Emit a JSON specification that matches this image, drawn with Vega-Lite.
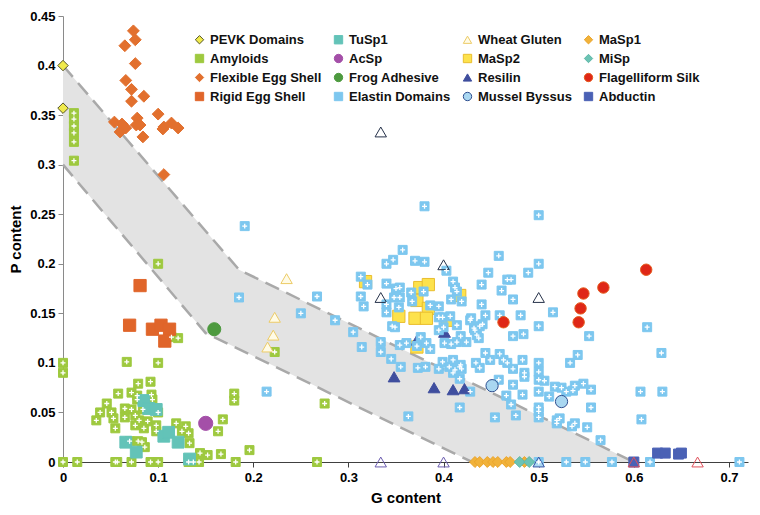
{
"$schema": "https://vega.github.io/schema/vega-lite/v6.json",
"width": 685, "height": 446,
"autosize": {"type": "none"},
"padding": {"left": 63, "top": 16, "right": 12, "bottom": 53},
"background": "white",
"config": {
  "view": {"stroke": null},
  "font": "Liberation Sans",
  "axis": {"grid": false, "labelFontSize": 13, "labelFontWeight": "bold", "labelColor": "#000", "titleFontSize": 15, "titleFontWeight": "bold", "titleColor": "#000", "tickSize": 5, "labelExpr": "format(datum.value, '~g')"},
  "axisX": {"tickCount": 8, "domainColor": "#404040", "tickColor": "#404040", "labelPadding": 4, "titlePadding": 6, "labelFlush": false},
  "axisY": {"tickCount": 10, "domainColor": "#8a8a8a", "tickColor": "#8a8a8a", "labelPadding": 3, "titlePadding": 6}
},
"datasets": {
  "band": [{"g":0,"up":0.4,"lo":0.3},{"g":0.15,"up":0.233,"lo":0.13},{"g":0.185,"up":0.194,"lo":0.114},{"g":0.43,"up":0.0795,"lo":0},{"g":0.6,"up":0,"lo":0}],
  "edges": [{"e":"upper","g":0,"p":0.4},{"e":"upper","g":0.185,"p":0.194},{"e":"upper","g":0.6,"p":0},{"e":"lower","g":0,"p":0.3},{"e":"lower","g":0.15,"p":0.13},{"e":"lower","g":0.43,"p":0}],
  "pts": [
{"s":"Amyloids","g":0.0115,"p":0.352},{"s":"Amyloids","g":0.0115,"p":0.346},{"s":"Amyloids","g":0.0115,"p":0.339},{"s":"Amyloids","g":0.0115,"p":0.332},{"s":"Amyloids","g":0.0115,"p":0.323},{"s":"Amyloids","g":0.0115,"p":0.304},
{"s":"Amyloids","g":0.1,"p":0.2},{"s":"Amyloids","g":0,"p":0.1},{"s":"Amyloids","g":0,"p":0.09},{"s":"Amyloids","g":0.067,"p":0.101},{"s":"Amyloids","g":0.1,"p":0.1},{"s":"Amyloids","g":0.114,"p":0.126},{"s":"Amyloids","g":0.121,"p":0.125},
{"s":"Amyloids","g":0.079,"p":0.079},{"s":"Amyloids","g":0.092,"p":0.081},{"s":"Amyloids","g":0.058,"p":0.069},{"s":"Amyloids","g":0.072,"p":0.07},{"s":"Amyloids","g":0.078,"p":0.067},{"s":"Amyloids","g":0.093,"p":0.068},{"s":"Amyloids","g":0.078,"p":0.063},{"s":"Amyloids","g":0.094,"p":0.063},
{"s":"Amyloids","g":0.046,"p":0.059},{"s":"Amyloids","g":0.065,"p":0.054},{"s":"Amyloids","g":0.072,"p":0.053},{"s":"Amyloids","g":0.084,"p":0.053},{"s":"Amyloids","g":0.039,"p":0.05},{"s":"Amyloids","g":0.051,"p":0.05},{"s":"Amyloids","g":0.1,"p":0.05},
{"s":"Amyloids","g":0.035,"p":0.042},{"s":"Amyloids","g":0.053,"p":0.044},{"s":"Amyloids","g":0.065,"p":0.045},{"s":"Amyloids","g":0.076,"p":0.047},{"s":"Amyloids","g":0.08,"p":0.042},
{"s":"Amyloids","g":0.055,"p":0.034},{"s":"Amyloids","g":0.076,"p":0.037},{"s":"Amyloids","g":0.085,"p":0.034},{"s":"Amyloids","g":0.089,"p":0.041},{"s":"Amyloids","g":0.098,"p":0.037},{"s":"Amyloids","g":0.098,"p":0.031},
{"s":"Amyloids","g":0.119,"p":0.039},{"s":"Amyloids","g":0.129,"p":0.036},{"s":"Amyloids","g":0.125,"p":0.031},{"s":"Amyloids","g":0.132,"p":0.029},
{"s":"Amyloids","g":0.07,"p":0.021},{"s":"Amyloids","g":0.079,"p":0.021},{"s":"Amyloids","g":0.083,"p":0.02},{"s":"Amyloids","g":0.086,"p":0.015},{"s":"Amyloids","g":0.133,"p":0.019},{"s":"Amyloids","g":0.144,"p":0.009},{"s":"Amyloids","g":0.152,"p":0.007},{"s":"Amyloids","g":0.166,"p":0.008},
{"s":"Amyloids","g":0.168,"p":0.043},{"s":"Amyloids","g":0.163,"p":0.031},{"s":"Amyloids","g":0.18,"p":0.069},{"s":"Amyloids","g":0.18,"p":0.062},{"s":"Amyloids","g":0.196,"p":0.012},{"s":"Amyloids","g":0.2225,"p":0.111},{"s":"Amyloids","g":0.275,"p":0.059},
{"s":"Amyloids","g":0,"p":0},{"s":"Amyloids","g":0.015,"p":0},{"s":"Amyloids","g":0.055,"p":0},{"s":"Amyloids","g":0.057,"p":0},{"s":"Amyloids","g":0.072,"p":0},{"s":"Amyloids","g":0.092,"p":0},{"s":"Amyloids","g":0.1,"p":0},{"s":"Amyloids","g":0.132,"p":0},{"s":"Amyloids","g":0.137,"p":0},{"s":"Amyloids","g":0.143,"p":0},{"s":"Amyloids","g":0.1815,"p":0},{"s":"Amyloids","g":0.267,"p":0},
{"s":"TuSp1","g":0.085,"p":0.062},{"s":"TuSp1","g":0.09,"p":0.054},{"s":"TuSp1","g":0.098,"p":0.053},{"s":"TuSp1","g":0.106,"p":0.026},{"s":"TuSp1","g":0.111,"p":0.03},{"s":"TuSp1","g":0.121,"p":0.02},{"s":"TuSp1","g":0.066,"p":0.02},{"s":"TuSp1","g":0.077,"p":0.01},{"s":"TuSp1","g":0.133,"p":0.003},
{"s":"PEVK Domains","g":0,"p":0.4},{"s":"PEVK Domains","g":0,"p":0.357},
{"s":"Flexible Egg Shell","g":0.074,"p":0.435},{"s":"Flexible Egg Shell","g":0.076,"p":0.426},{"s":"Flexible Egg Shell","g":0.065,"p":0.42},{"s":"Flexible Egg Shell","g":0.076,"p":0.402},{"s":"Flexible Egg Shell","g":0.066,"p":0.385},{"s":"Flexible Egg Shell","g":0.072,"p":0.376},{"s":"Flexible Egg Shell","g":0.085,"p":0.369},{"s":"Flexible Egg Shell","g":0.072,"p":0.364},{"s":"Flexible Egg Shell","g":0.1,"p":0.351},{"s":"Flexible Egg Shell","g":0.054,"p":0.343},{"s":"Flexible Egg Shell","g":0.062,"p":0.341},{"s":"Flexible Egg Shell","g":0.066,"p":0.337},{"s":"Flexible Egg Shell","g":0.078,"p":0.347},{"s":"Flexible Egg Shell","g":0.077,"p":0.34},{"s":"Flexible Egg Shell","g":0.081,"p":0.34},{"s":"Flexible Egg Shell","g":0.114,"p":0.342},{"s":"Flexible Egg Shell","g":0.106,"p":0.338},{"s":"Flexible Egg Shell","g":0.105,"p":0.336},{"s":"Flexible Egg Shell","g":0.121,"p":0.337},{"s":"Flexible Egg Shell","g":0.084,"p":0.328},{"s":"Flexible Egg Shell","g":0.06,"p":0.333},{"s":"Flexible Egg Shell","g":0.106,"p":0.29},
{"s":"Rigid Egg Shell","g":0.081,"p":0.178},{"s":"Rigid Egg Shell","g":0.07,"p":0.138},{"s":"Rigid Egg Shell","g":0.094,"p":0.134},{"s":"Rigid Egg Shell","g":0.103,"p":0.138},{"s":"Rigid Egg Shell","g":0.112,"p":0.134},{"s":"Rigid Egg Shell","g":0.107,"p":0.122},
{"s":"AcSp","g":0.15,"p":0.039},{"s":"Frog Adhesive","g":0.159,"p":0.134},
{"s":"MaSp2","g":0.318,"p":0.182},{"s":"MaSp2","g":0.375,"p":0.176},{"s":"MaSp2","g":0.384,"p":0.179},{"s":"MaSp2","g":0.372,"p":0.163},{"s":"MaSp2","g":0.384,"p":0.155},{"s":"MaSp2","g":0.353,"p":0.147},{"s":"MaSp2","g":0.37,"p":0.145},{"s":"MaSp2","g":0.382,"p":0.145},{"s":"MaSp2","g":0.404,"p":0.143},{"s":"MaSp2","g":0.417,"p":0.168},{"s":"MaSp2","g":0.372,"p":0.116},
{"s":"Resilin","g":0.372,"p":0.123},{"s":"Resilin","g":0.401,"p":0.131},
{"s":"Elastin Domains","g":0.191,"p":0.238},{"s":"Elastin Domains","g":0.185,"p":0.166},{"s":"Elastin Domains","g":0.38,"p":0.258},{"s":"Elastin Domains","g":0.357,"p":0.214},{"s":"Elastin Domains","g":0.347,"p":0.204},{"s":"Elastin Domains","g":0.34,"p":0.2},{"s":"Elastin Domains","g":0.37,"p":0.203},{"s":"Elastin Domains","g":0.38,"p":0.202},{"s":"Elastin Domains","g":0.313,"p":0.187},{"s":"Elastin Domains","g":0.32,"p":0.179},{"s":"Elastin Domains","g":0.34,"p":0.18},{"s":"Elastin Domains","g":0.35,"p":0.175},{"s":"Elastin Domains","g":0.354,"p":0.176},{"s":"Elastin Domains","g":0.366,"p":0.171},{"s":"Elastin Domains","g":0.379,"p":0.172},{"s":"Elastin Domains","g":0.267,"p":0.167},{"s":"Elastin Domains","g":0.313,"p":0.167},{"s":"Elastin Domains","g":0.348,"p":0.166},{"s":"Elastin Domains","g":0.403,"p":0.193},{"s":"Elastin Domains","g":0.41,"p":0.182},{"s":"Elastin Domains","g":0.412,"p":0.176},{"s":"Elastin Domains","g":0.414,"p":0.172},{"s":"Elastin Domains","g":0.354,"p":0.166},{"s":"Elastin Domains","g":0.316,"p":0.157},{"s":"Elastin Domains","g":0.34,"p":0.159},{"s":"Elastin Domains","g":0.353,"p":0.156},{"s":"Elastin Domains","g":0.367,"p":0.162},{"s":"Elastin Domains","g":0.386,"p":0.158},{"s":"Elastin Domains","g":0.395,"p":0.157},{"s":"Elastin Domains","g":0.408,"p":0.164},{"s":"Elastin Domains","g":0.34,"p":0.151},{"s":"Elastin Domains","g":0.399,"p":0.146},{"s":"Elastin Domains","g":0.407,"p":0.147},{"s":"Elastin Domains","g":0.25,"p":0.15},{"s":"Elastin Domains","g":0.286,"p":0.143},{"s":"Elastin Domains","g":0.305,"p":0.131},{"s":"Elastin Domains","g":0.314,"p":0.116},{"s":"Elastin Domains","g":0.334,"p":0.121},{"s":"Elastin Domains","g":0.334,"p":0.111},{"s":"Elastin Domains","g":0.345,"p":0.104},{"s":"Elastin Domains","g":0.355,"p":0.096},{"s":"Elastin Domains","g":0.214,"p":0.071},{"s":"Elastin Domains","g":0.363,"p":0.046},{"s":"Elastin Domains","g":0.346,"p":0.137},{"s":"Elastin Domains","g":0.349,"p":0.136},{"s":"Elastin Domains","g":0.361,"p":0.12},{"s":"Elastin Domains","g":0.354,"p":0.118},{"s":"Elastin Domains","g":0.373,"p":0.095},{"s":"Elastin Domains","g":0.381,"p":0.096},{"s":"Elastin Domains","g":0.376,"p":0.126},{"s":"Elastin Domains","g":0.382,"p":0.12},{"s":"Elastin Domains","g":0.386,"p":0.114},{"s":"Elastin Domains","g":0.395,"p":0.094},{"s":"Elastin Domains","g":0.399,"p":0.101},{"s":"Elastin Domains","g":0.406,"p":0.096},{"s":"Elastin Domains","g":0.412,"p":0.093},{"s":"Elastin Domains","g":0.417,"p":0.096},{"s":"Elastin Domains","g":0.419,"p":0.094},{"s":"Elastin Domains","g":0.417,"p":0.084},{"s":"Elastin Domains","g":0.417,"p":0.055},{"s":"Elastin Domains","g":0.428,"p":0.071},{"s":"Elastin Domains","g":0.395,"p":0.146},{"s":"Elastin Domains","g":0.4,"p":0.136},{"s":"Elastin Domains","g":0.395,"p":0.133},{"s":"Elastin Domains","g":0.401,"p":0.12},{"s":"Elastin Domains","g":0.408,"p":0.119},{"s":"Elastin Domains","g":0.414,"p":0.121},{"s":"Elastin Domains","g":0.418,"p":0.127},{"s":"Elastin Domains","g":0.424,"p":0.121},{"s":"Elastin Domains","g":0.432,"p":0.135},{"s":"Elastin Domains","g":0.435,"p":0.128},{"s":"Elastin Domains","g":0.428,"p":0.143},{"s":"Elastin Domains","g":0.414,"p":0.138},{"s":"Elastin Domains","g":0.41,"p":0.103},{"s":"Elastin Domains","g":0.418,"p":0.098},{"s":"Elastin Domains","g":0.434,"p":0.1},{"s":"Elastin Domains","g":0.372,"p":0.117},{"s":"Elastin Domains","g":0.444,"p":0.148},{"s":"Elastin Domains","g":0.459,"p":0.148},{"s":"Elastin Domains","g":0.481,"p":0.148},{"s":"Elastin Domains","g":0.515,"p":0.151},{"s":"Elastin Domains","g":0.5,"p":0.137},{"s":"Elastin Domains","g":0.433,"p":0.133},{"s":"Elastin Domains","g":0.438,"p":0.137},{"s":"Elastin Domains","g":0.441,"p":0.139},{"s":"Elastin Domains","g":0.437,"p":0.125},{"s":"Elastin Domains","g":0.473,"p":0.127},{"s":"Elastin Domains","g":0.484,"p":0.129},{"s":"Elastin Domains","g":0.444,"p":0.11},{"s":"Elastin Domains","g":0.449,"p":0.103},{"s":"Elastin Domains","g":0.459,"p":0.109},{"s":"Elastin Domains","g":0.463,"p":0.103},{"s":"Elastin Domains","g":0.467,"p":0.1},{"s":"Elastin Domains","g":0.473,"p":0.094},{"s":"Elastin Domains","g":0.483,"p":0.103},{"s":"Elastin Domains","g":0.5,"p":0.1},{"s":"Elastin Domains","g":0.5,"p":0.091},{"s":"Elastin Domains","g":0.5,"p":0.083},{"s":"Elastin Domains","g":0.506,"p":0.082},{"s":"Elastin Domains","g":0.5,"p":0.071},{"s":"Elastin Domains","g":0.511,"p":0.066},{"s":"Elastin Domains","g":0.517,"p":0.076},{"s":"Elastin Domains","g":0.524,"p":0.075},{"s":"Elastin Domains","g":0.529,"p":0.071},{"s":"Elastin Domains","g":0.536,"p":0.072},{"s":"Elastin Domains","g":0.533,"p":0.1},{"s":"Elastin Domains","g":0.541,"p":0.108},{"s":"Elastin Domains","g":0.41,"p":0.09},{"s":"Elastin Domains","g":0.458,"p":0.083},{"s":"Elastin Domains","g":0.473,"p":0.078},{"s":"Elastin Domains","g":0.483,"p":0.068},{"s":"Elastin Domains","g":0.466,"p":0.067},{"s":"Elastin Domains","g":0.471,"p":0.058},{"s":"Elastin Domains","g":0.454,"p":0.045},{"s":"Elastin Domains","g":0.476,"p":0.047},{"s":"Elastin Domains","g":0.5,"p":0.055},{"s":"Elastin Domains","g":0.5,"p":0.051},{"s":"Elastin Domains","g":0.5,"p":0.045},{"s":"Elastin Domains","g":0.522,"p":0.044},{"s":"Elastin Domains","g":0.519,"p":0.039},{"s":"Elastin Domains","g":0.538,"p":0.039},{"s":"Elastin Domains","g":0.535,"p":0.036},{"s":"Elastin Domains","g":0.529,"p":0},{"s":"Elastin Domains","g":0.5,"p":0.249},{"s":"Elastin Domains","g":0.458,"p":0.208},{"s":"Elastin Domains","g":0.489,"p":0.191},{"s":"Elastin Domains","g":0.447,"p":0.191},{"s":"Elastin Domains","g":0.467,"p":0.184},{"s":"Elastin Domains","g":0.471,"p":0.184},{"s":"Elastin Domains","g":0.44,"p":0.179},{"s":"Elastin Domains","g":0.461,"p":0.173},{"s":"Elastin Domains","g":0.473,"p":0.164},{"s":"Elastin Domains","g":0.44,"p":0.159},{"s":"Elastin Domains","g":0.419,"p":0.162},{"s":"Elastin Domains","g":0.429,"p":0.145},{"s":"Elastin Domains","g":0.553,"p":0.127},{"s":"Elastin Domains","g":0.614,"p":0.136},{"s":"Elastin Domains","g":0.629,"p":0.11},{"s":"Elastin Domains","g":0.607,"p":0.071},{"s":"Elastin Domains","g":0.63,"p":0.071},{"s":"Elastin Domains","g":0.608,"p":0.043},{"s":"Elastin Domains","g":0.565,"p":0.022},{"s":"Elastin Domains","g":0.551,"p":0.035},{"s":"Elastin Domains","g":0.555,"p":0.055},{"s":"Elastin Domains","g":0.555,"p":0.073},{"s":"Elastin Domains","g":0.547,"p":0.079},{"s":"Elastin Domains","g":0.538,"p":0.077},{"s":"Elastin Domains","g":0.485,"p":0.09},{"s":"Elastin Domains","g":0.485,"p":0.086},{"s":"Elastin Domains","g":0.438,"p":0.095},{"s":"Elastin Domains","g":0.549,"p":0},{"s":"Elastin Domains","g":0.577,"p":0},{"s":"Elastin Domains","g":0.617,"p":0},{"s":"Elastin Domains","g":0.711,"p":0},{"s":"Elastin Domains","g":0.5,"p":0},{"s":"Elastin Domains","g":0.519,"p":0.042},{"s":"Elastin Domains","g":0.5,"p":0.2},
{"s":"Resilin","g":0.348,"p":0.086},{"s":"Resilin","g":0.39,"p":0.075},{"s":"Resilin","g":0.41,"p":0.073},{"s":"Resilin","g":0.422,"p":0.074},
{"s":"Wheat Gluten","g":0.235,"p":0.185},{"s":"Wheat Gluten","g":0.2225,"p":0.146},{"s":"Wheat Gluten","g":0.221,"p":0.128},{"s":"Wheat Gluten","g":0.215,"p":0.116},
{"s":"Mussel Byssus","g":0.451,"p":0.077},{"s":"Mussel Byssus","g":0.524,"p":0.061},
{"s":"MaSp1","g":0.433,"p":0},{"s":"MaSp1","g":0.438,"p":0},{"s":"MaSp1","g":0.446,"p":0},{"s":"MaSp1","g":0.452,"p":0},{"s":"MaSp1","g":0.457,"p":0},{"s":"MaSp1","g":0.466,"p":0},{"s":"MaSp1","g":0.47,"p":0},{"s":"MaSp1","g":0.485,"p":0},
{"s":"MiSp","g":0.48,"p":0},{"s":"MiSp","g":0.49,"p":0},
{"s":"Flagelliform Silk","g":0.463,"p":0.141},{"s":"Flagelliform Silk","g":0.542,"p":0.141},{"s":"Flagelliform Silk","g":0.544,"p":0.155},{"s":"Flagelliform Silk","g":0.547,"p":0.17},{"s":"Flagelliform Silk","g":0.568,"p":0.176},{"s":"Flagelliform Silk","g":0.613,"p":0.194},
{"s":"Abductin","g":0.625,"p":0.009},{"s":"Abductin","g":0.633,"p":0.009},{"s":"Abductin","g":0.647,"p":0.008},{"s":"Abductin","g":0.65,"p":0.009},{"s":"Abductin","g":0.6,"p":0},
{"s":"Other A","g":0.334,"p":0.333},{"s":"Other A","g":0.4,"p":0.199},{"s":"Other A","g":0.334,"p":0.166},{"s":"Other A","g":0.5,"p":0.166},
{"s":"Other B","g":0.334,"p":0},{"s":"Other B","g":0.4,"p":0},
{"s":"Other C","g":0.6,"p":0},{"s":"Other C","g":0.667,"p":0},
{"s":"Other D","g":0.5,"p":0}
  ]
},
"layer": [
  {
    "data": {"name": "band"},
    "mark": {"type": "area", "color": "#e3e3e3"},
    "encoding": {
      "x": {"field": "g", "type": "quantitative", "title": "G content", "scale": {"domain": [0, 0.72], "nice": false}},
      "y": {"field": "up", "type": "quantitative", "title": "P content", "scale": {"domain": [0, 0.45], "nice": false}},
      "y2": {"field": "lo"}
    }
  },
  {
    "data": {"name": "edges"},
    "mark": {"type": "line", "color": "#a9a9a9", "strokeWidth": 2.5, "strokeDash": [15, 8]},
    "encoding": {
      "x": {"field": "g", "type": "quantitative", "title": "G content"},
      "y": {"field": "p", "type": "quantitative", "title": "P content"},
      "detail": {"field": "e"}
    }
  },
  {
    "data": {"name": "pts"},
    "mark": {"type": "point", "filled": true, "opacity": 1, "strokeWidth": 1},
    "encoding": {
      "x": {"field": "g", "type": "quantitative", "title": "G content"},
      "y": {"field": "p", "type": "quantitative", "title": "P content"},
      "shape": {"field": "s", "type": "nominal",
        "scale": {"domain": ["PEVK Domains","TuSp1","Wheat Gluten","MaSp1","Amyloids","AcSp","MaSp2","MiSp","Flexible Egg Shell","Frog Adhesive","Resilin","Flagelliform Silk","Rigid Egg Shell","Elastin Domains","Mussel Byssus","Abductin","Other A","Other B","Other C","Other D"],
          "range": ["diamond","square","triangle-up","diamond","square","circle","square","diamond","diamond","circle","triangle-up","circle","square","square","circle","square","triangle-up","triangle-up","triangle-up","triangle-up"]},
        "legend": {"title": null, "orient": "none", "legendX": 130, "legendY": 17, "columns": 4, "gridAlign": "each", "columnPadding": 10, "rowPadding": 5, "symbolSize": 70, "symbolStrokeWidth": 1, "labelFontSize": 13, "labelFontWeight": "bold", "labelFont": "Liberation Sans", "labelColor": "#111", "labelOffset": 4,
          "values": ["PEVK Domains","Amyloids","Flexible Egg Shell","Rigid Egg Shell","TuSp1","AcSp","Frog Adhesive","Elastin Domains","Wheat Gluten","MaSp2","Resilin","Mussel Byssus","MaSp1","MiSp","Flagelliform Silk","Abductin"]}},
      "fill": {"field": "s", "type": "nominal",
        "scale": {"domain": ["PEVK Domains","TuSp1","Wheat Gluten","MaSp1","Amyloids","AcSp","MaSp2","MiSp","Flexible Egg Shell","Frog Adhesive","Resilin","Flagelliform Silk","Rigid Egg Shell","Elastin Domains","Mussel Byssus","Abductin","Other A","Other B","Other C","Other D"],
          "range": ["#f0ea4c","#63c3b8","#fffbe6","#f1b23a","#9ec93f","#a44fa8","#fde24c","#6cc3b4","#e2702e","#4d9a3f","#3f4e9e","#df2717","#e0652a","#7dc7ef","#a9d7f1","#4a61b5","rgba(255,255,255,0)","rgba(255,255,255,0)","rgba(255,255,255,0)","#a9d7f1"]},
        "legend": {"title": null, "orient": "none", "legendX": 130, "legendY": 17, "columns": 4, "gridAlign": "each", "columnPadding": 10, "rowPadding": 5, "symbolSize": 70, "symbolStrokeWidth": 1, "labelFontSize": 13, "labelFontWeight": "bold", "labelFont": "Liberation Sans", "labelColor": "#111", "labelOffset": 4,
          "values": ["PEVK Domains","Amyloids","Flexible Egg Shell","Rigid Egg Shell","TuSp1","AcSp","Frog Adhesive","Elastin Domains","Wheat Gluten","MaSp2","Resilin","Mussel Byssus","MaSp1","MiSp","Flagelliform Silk","Abductin"]}},
      "stroke": {"field": "s", "type": "nominal",
        "scale": {"domain": ["PEVK Domains","TuSp1","Wheat Gluten","MaSp1","Amyloids","AcSp","MaSp2","MiSp","Flexible Egg Shell","Frog Adhesive","Resilin","Flagelliform Silk","Rigid Egg Shell","Elastin Domains","Mussel Byssus","Abductin","Other A","Other B","Other C","Other D"],
          "range": ["#55552a","#63c3b8","#eccb66","#eba52c","#9ec93f","#a44fa8","#e9bd2e","#5fb8a8","#e2702e","#4d9a3f","#3f4e9e","#e55a1c","#e0652a","#7dc7ef","#2f4f8f","#4a61b5","#26324a","#6b5cb0","#e0505a","#3a55a5"]},
        "legend": {"title": null, "orient": "none", "legendX": 130, "legendY": 17, "columns": 4, "gridAlign": "each", "columnPadding": 10, "rowPadding": 5, "symbolSize": 70, "symbolStrokeWidth": 1, "labelFontSize": 13, "labelFontWeight": "bold", "labelFont": "Liberation Sans", "labelColor": "#111", "labelOffset": 4,
          "values": ["PEVK Domains","Amyloids","Flexible Egg Shell","Rigid Egg Shell","TuSp1","AcSp","Frog Adhesive","Elastin Domains","Wheat Gluten","MaSp2","Resilin","Mussel Byssus","MaSp1","MiSp","Flagelliform Silk","Abductin"]}},
      "size": {"field": "s", "type": "nominal", "legend": null,
        "scale": {"type": "ordinal", "domain": ["Other D","Other C","Other B","Other A","Abductin","Flagelliform Silk","MiSp","MaSp1","Mussel Byssus","Resilin","MaSp2","Wheat Gluten","Elastin Domains","Frog Adhesive","AcSp","TuSp1","Rigid Egg Shell","Flexible Egg Shell","Amyloids","PEVK Domains"],
          "range": [130,130,130,130,100,130,120,120,150,140,150,130,81,170,200,140,150,140,81,110]}}
    }
  },
  {
    "data": {"name": "pts"},
    "transform": [{"filter": {"field": "s", "oneOf": ["Amyloids", "Elastin Domains"]}}],
    "mark": {"type": "point", "shape": "M-0.55,0H0.55M0,-0.55V0.55", "filled": false, "stroke": "white", "strokeWidth": 1.3, "size": 81, "opacity": 1},
    "encoding": {
      "x": {"field": "g", "type": "quantitative", "title": "G content"},
      "y": {"field": "p", "type": "quantitative", "title": "P content"}
    }
  },
  {
    "mark": {"type": "rule", "color": "#8a8a8a", "strokeWidth": 1.5},
    "encoding": {"x": {"datum": 0.72}, "y": {"datum": 0}, "y2": {"datum": 0.45}}
  }
]
}
